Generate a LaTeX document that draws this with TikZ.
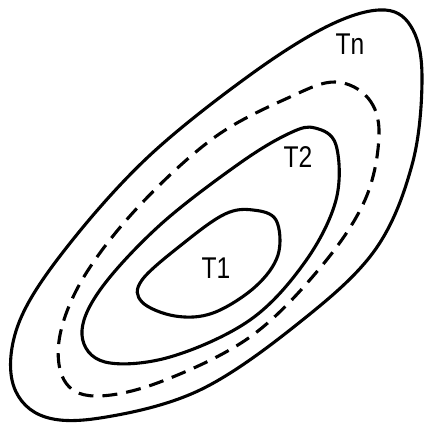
\documentclass[tikz,border=0pt]{standalone}
\usepackage{fontspec}
\newfontfamily\lblfont[FakeStretch=0.82]{Liberation Sans}
\begin{document}
\begin{tikzpicture}[x=1pt,y=-1pt,
  contour/.style={line width=3.1pt, line cap=round, line join=round},
  dashcontour/.style={contour, line cap=butt, dash pattern=on 15pt off 9pt},
  lbl/.style={font=\lblfont\fontsize{30}{32}\selectfont, inner sep=0pt}]
\useasboundingbox (0,0) rectangle (423,425);
% Tn outer
\draw[contour] plot[smooth cycle, tension=0.6] coordinates {
 (385,10) (413,30) (422,80) (412,165) (375,250) (300,322) (200,390)
 (100,418) (40,415) (12,380) (20,320) (67,247) (148,157) (250,75) (330,25)};
% dashed
\draw[dashcontour] plot[smooth cycle, tension=0.6] coordinates {
 (335,82) (368,98) (379,135) (365,200) (320,268) (250,337) (160,382)
 (95,396) (64,380) (60,335) (85,275) (140,205) (215,137) (290,97)};
% T2
\draw[contour] plot[smooth cycle, tension=0.6] coordinates {
 (315,128) (336,145) (336,200) (305,262) (250,320) (170,357) (105,362)
 (82,335) (100,290) (160,225) (240,163) (290,133)};
% T1
\draw[contour] plot[smooth cycle, tension=0.6] coordinates {
 (253,210) (276,220) (278,255) (255,287) (213,313) (175,316) (142,302)
 (142,280) (185,242) (225,214)};
\node[lbl] (tn) at (350,44) {Tn};
\node[lbl] (t2) at (298,157) {T2};
\node[lbl] (t1) at (216,268) {T1};
\end{tikzpicture}
\end{document}
